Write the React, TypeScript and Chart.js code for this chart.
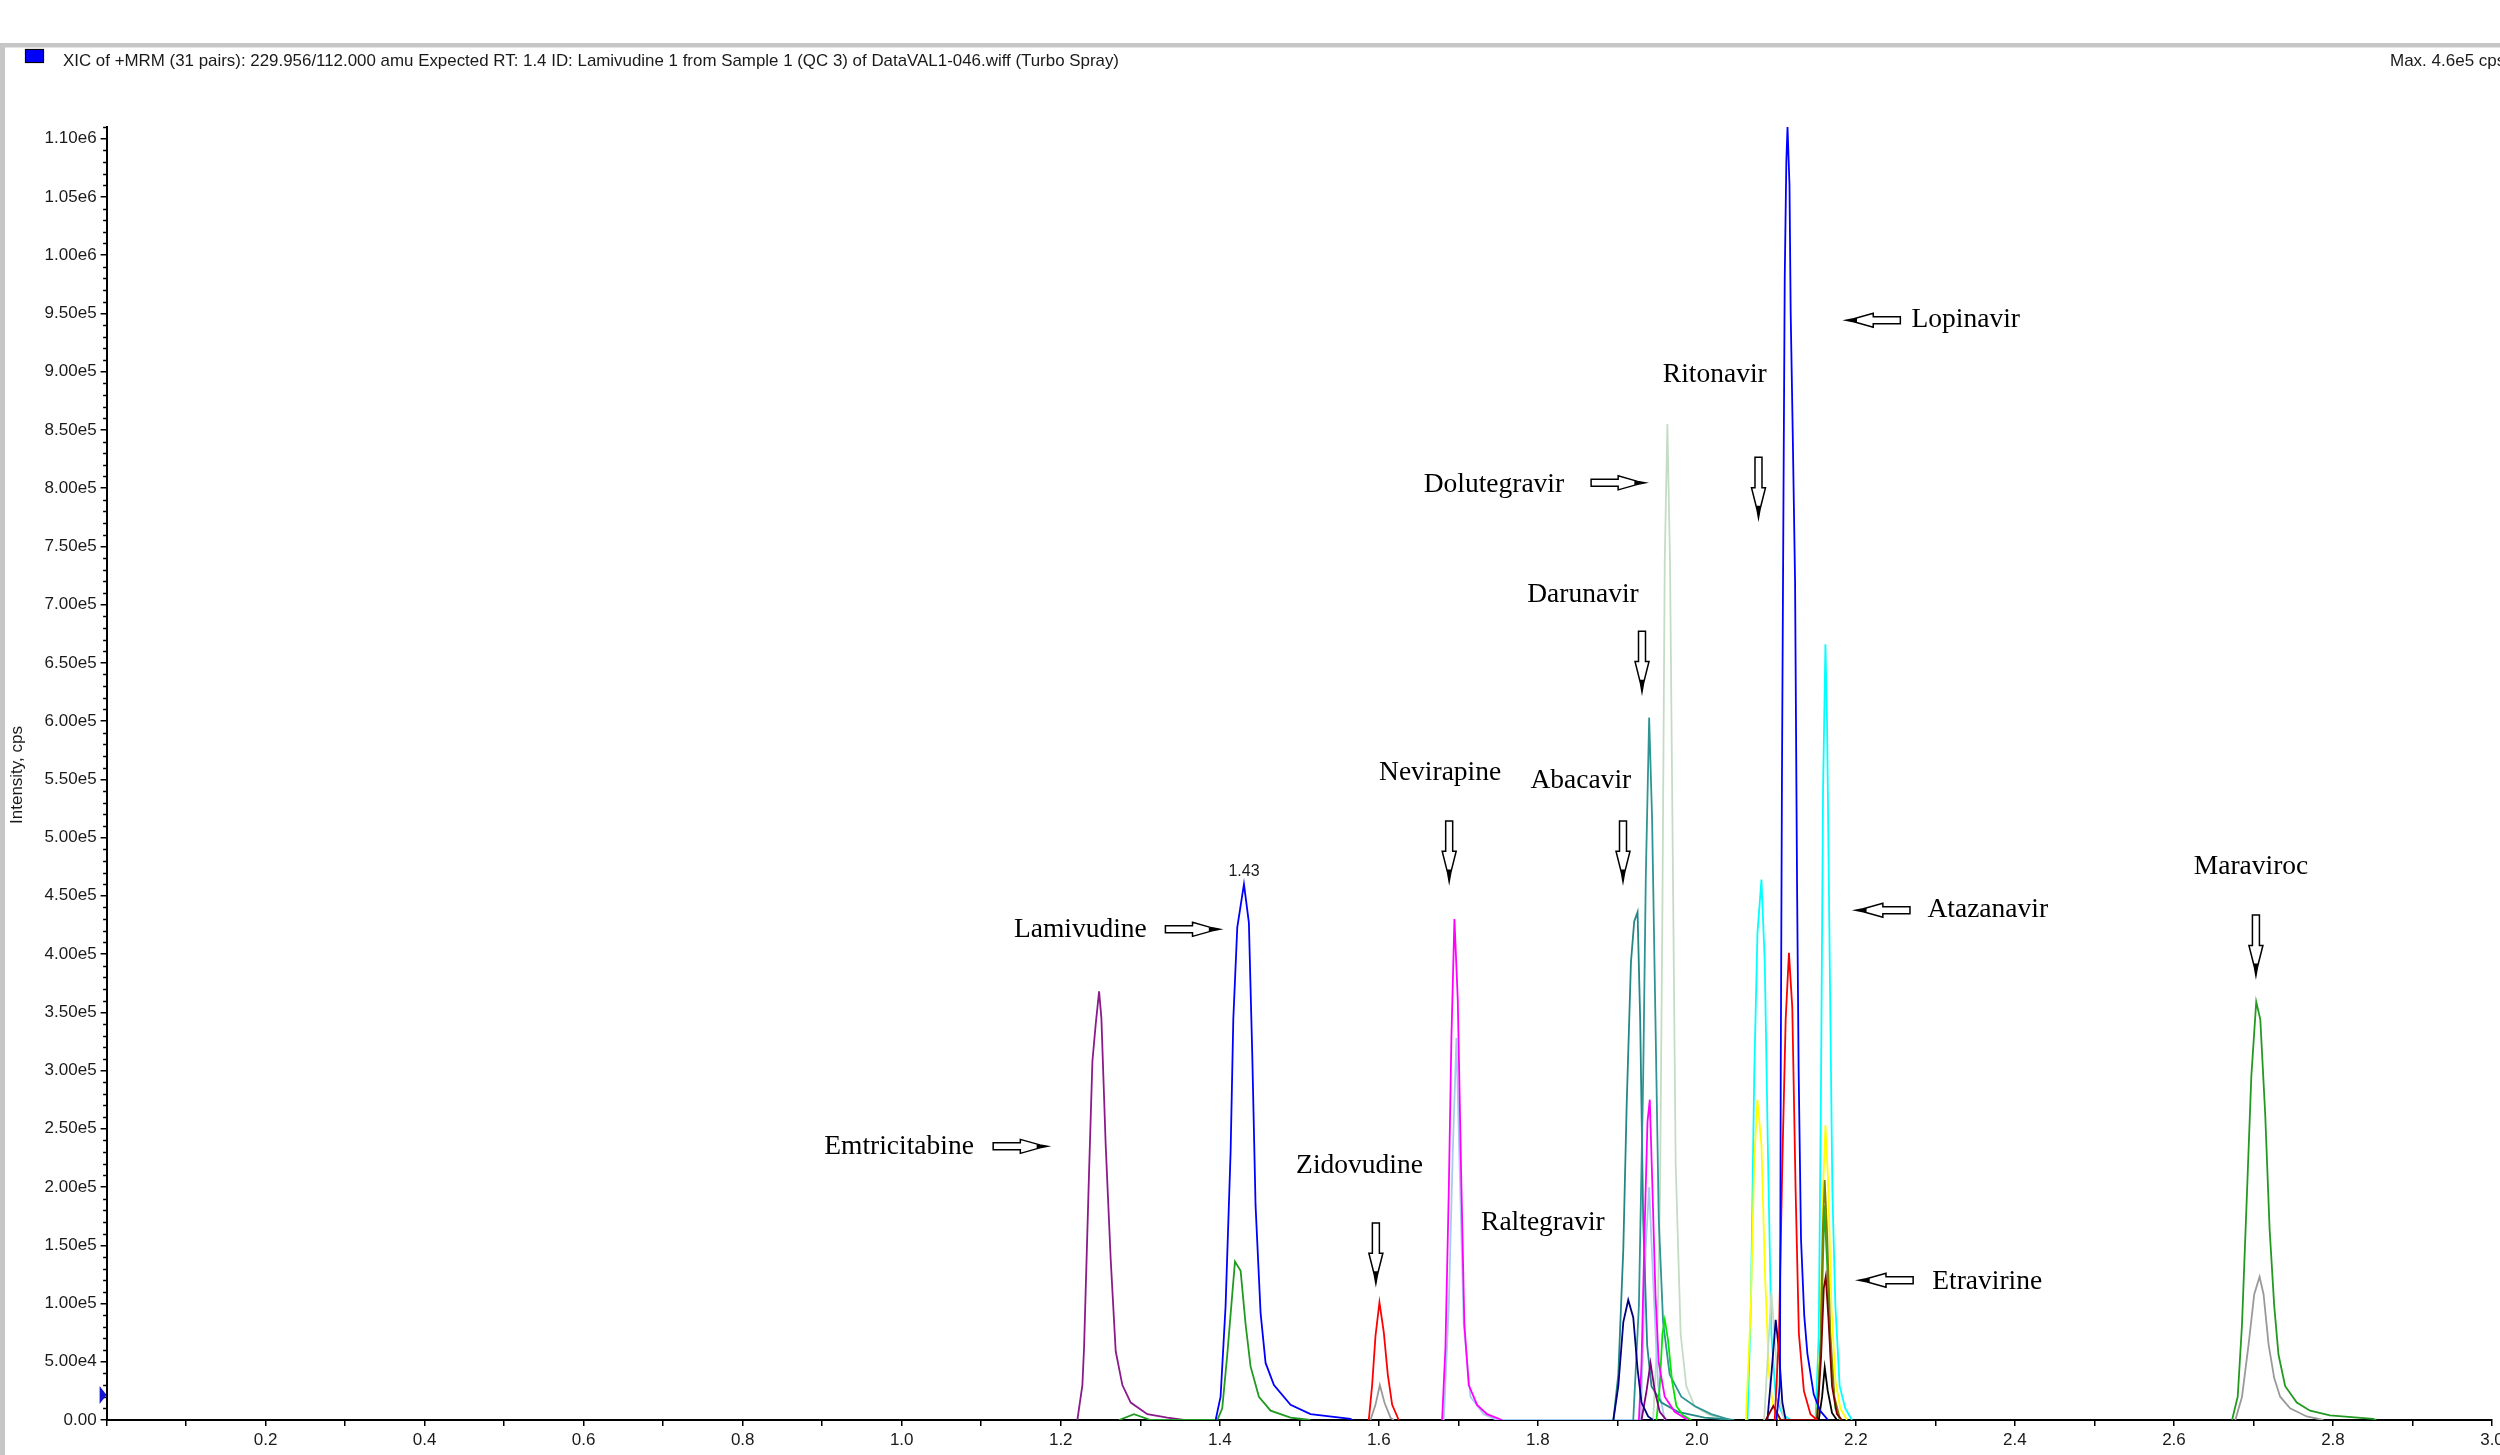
import React, { useEffect, useRef } from 'react';
import { Chart, registerables } from 'chart.js';

Chart.register(...registerables);

type Pt = [number, number];

// ---------- axis settings ----------
const xMin = 0;
const xMax = 3.0;
const xStep = 0.1;
const yMin = 0;
const yMax = 1110000;
const yStep = 50000;
const yMinorStep = 10000;
const yTickValues: number[] = [
  0, 50000, 100000, 150000, 200000, 250000, 300000, 350000, 400000, 450000, 500000, 550000,
  600000, 650000, 700000, 750000, 800000, 850000, 900000, 950000, 1000000, 1050000, 1100000,
];

// ---------- header texts ----------
const headerText =
  'XIC of +MRM (31 pairs): 229.956/112.000 amu Expected RT: 1.4 ID: Lamivudine 1 from Sample 1 (QC 3) of DataVAL1-046.wiff (Turbo Spray)';
const maxText = 'Max. 4.6e5 cps';
const yTitle = 'Intensity, cps';

// ---------- traces: [retention time (min), intensity (cps)] ----------
const emtricitabine: Pt[] = [
  [1.2209, 0], [1.2272, 30000], [1.2293, 62000], [1.2356, 213000], [1.2398, 308000],
  [1.244, 340000], [1.2482, 368000], [1.2511, 345000], [1.2565, 236000], [1.2628, 138000],
  [1.2691, 59000], [1.2775, 30000], [1.288, 15000], [1.3089, 5000], [1.334, 2000], [1.355, 0],
];
const lamivudine: Pt[] = [
  [1.3948, 0], [1.401, 20000], [1.4073, 98000], [1.4136, 230000], [1.417, 344000],
  [1.422, 423000], [1.4304, 460000], [1.4366, 427000], [1.4408, 315000], [1.445, 184000],
  [1.4513, 92000], [1.4576, 49000], [1.4681, 30000], [1.489, 13000], [1.5141, 5000],
  [1.5644, 1000], [1.5665, 0],
];
const lamivudineGreen: Pt[] = [
  [1.2733, 0], [1.2921, 5000], [1.3131, 0], [1.3969, 0], [1.4031, 10000], [1.4094, 56000],
  [1.4157, 108000], [1.4191, 136000], [1.4262, 128000], [1.4325, 82000], [1.4387, 46000],
  [1.4492, 20000], [1.4639, 8000], [1.489, 2000], [1.5141, 0],
];
const zidovudine: Pt[] = [
  [1.5874, 0], [1.5916, 30000], [1.5958, 72000], [1.6008, 101000], [1.6063, 75000],
  [1.6113, 39000], [1.6168, 13000], [1.6251, 0],
];
const zidovudineGray: Pt[] = [
  [1.5895, 0], [1.5958, 13000], [1.6013, 30000], [1.6071, 15000], [1.6147, 2000], [1.6188, 0],
];
const nevirapine: Pt[] = [
  [1.6796, 0], [1.6838, 62000], [1.688, 197000], [1.6913, 328000], [1.6951, 430000],
  [1.6993, 361000], [1.7035, 213000], [1.7076, 82000], [1.7131, 30000], [1.7236, 13000],
  [1.7361, 5000], [1.755, 0],
];
const lightBlueTrace: Pt[] = [
  [1.6817, 0], [1.688, 98000], [1.693, 230000], [1.6976, 328000], [1.7018, 213000],
  [1.7068, 82000], [1.7152, 20000], [1.7319, 5000], [1.7487, 0], [1.9296, 0],
  [1.9358, 150000], [1.94, 200000], [1.945, 120000], [1.9512, 30000], [1.9596, 0],
];
const raltegravir: Pt[] = [
  [1.895, 0], [1.9012, 29000], [1.9075, 84000], [1.9137, 103000], [1.92, 88000],
  [1.9254, 44000], [1.9304, 15000], [1.9387, 3000], [1.945, 0],
];
const abacavir: Pt[] = [
  [1.895, 0], [1.9012, 39000], [1.9075, 147000], [1.9117, 270000], [1.9171, 393000],
  [1.9212, 428000], [1.9254, 436000], [1.9287, 344000], [1.9325, 172000], [1.9375, 64000],
  [1.9429, 29000], [1.9554, 15000], [1.9762, 7000], [2.0096, 2000], [2.047, 0],
];
const darunavir: Pt[] = [
  [1.92, 0], [1.9271, 98000], [1.9325, 295000], [1.9358, 467000], [1.94, 603000],
  [1.9437, 516000], [1.9479, 344000], [1.9521, 172000], [1.9575, 84000], [1.9658, 39000],
  [1.9804, 20000], [1.9971, 12000], [2.0179, 5000], [2.0429, 0],
];
const dolutegravir: Pt[] = [
  [1.945, 0], [1.9504, 74000], [1.9537, 197000], [1.9567, 442000], [1.9596, 737000],
  [1.9629, 855000], [1.9662, 737000], [1.9696, 492000], [1.9733, 221000], [1.9796, 74000],
  [1.9867, 29000], [1.9971, 12000], [2.0138, 5000], [2.0346, 0],
];
const magentaTrace: Pt[] = [
  [1.9271, 0], [1.9304, 49000], [1.9346, 172000], [1.9379, 256000], [1.9408, 275000],
  [1.9442, 197000], [1.9479, 108000], [1.9521, 49000], [1.9596, 20000], [1.9721, 7000],
  [1.9888, 0],
];
const purpleTrace: Pt[] = [
  [1.9304, 0], [1.9367, 25000], [1.9417, 49000], [1.9471, 25000], [1.9533, 7000], [1.9617, 0],
];
const brightGreenTrace: Pt[] = [
  [1.9492, 0], [1.9533, 29000], [1.9567, 74000], [1.9596, 86000], [1.9637, 69000],
  [1.9687, 34000], [1.9742, 12000], [1.9825, 4000], [1.9929, 0],
];
const cyanEarly: Pt[] = [
  [2.0637, 0], [2.0679, 98000], [2.0721, 295000], [2.0762, 418000], [2.0812, 464000],
  [2.0854, 393000], [2.0896, 221000], [2.0937, 74000], [2.0992, 20000], [2.1075, 5000],
  [2.1179, 0],
];
const yellowEarly: Pt[] = [
  [2.0617, 0], [2.0679, 98000], [2.0721, 221000], [2.0762, 275000], [2.0812, 236000],
  [2.0858, 123000], [2.0908, 39000], [2.0962, 10000], [2.1033, 0],
];
const paleGreenEarly: Pt[] = [
  [2.0846, 0], [2.0896, 60000], [2.0937, 110000], [2.0979, 70000], [2.1033, 20000], [2.1096, 0],
];
const navyEarly: Pt[] = [
  [2.0887, 0], [2.0937, 39000], [2.0992, 86000], [2.1033, 59000], [2.1075, 15000], [2.1117, 0],
];
const ritonavir: Pt[] = [
  [2.0979, 0], [2.1033, 74000], [2.1075, 221000], [2.1117, 344000], [2.1158, 401000],
  [2.12, 354000], [2.1242, 197000], [2.1283, 74000], [2.1346, 25000], [2.1429, 5000],
  [2.1512, 0],
];
const lopinavir: Pt[] = [
  [2.1, 0], [2.1045, 30000], [2.1055, 300000], [2.107, 550000], [2.109, 800000],
  [2.1105, 980000], [2.1125, 1080000], [2.114, 1110000], [2.1165, 1060000], [2.118, 950000],
  [2.1205, 850000], [2.1235, 720000], [2.126, 460000], [2.128, 300000], [2.131, 155000],
  [2.135, 90000], [2.139, 57000], [2.147, 22000], [2.155, 8000], [2.165, 0],
];
const atazanavir: Pt[] = [
  [2.1492, 0], [2.1533, 74000], [2.1562, 295000], [2.1587, 541000], [2.1617, 666000],
  [2.1637, 600000], [2.1671, 393000], [2.1704, 197000], [2.1742, 98000], [2.1796, 29000],
  [2.1867, 10000], [2.195, 0],
];
const yellowLate: Pt[] = [
  [2.1512, 0], [2.1554, 74000], [2.1587, 197000], [2.1617, 253000], [2.165, 206000],
  [2.1692, 98000], [2.1742, 34000], [2.1804, 10000], [2.1887, 0],
];
const oliveLate: Pt[] = [
  [2.1512, 0], [2.1554, 59000], [2.1583, 162000], [2.1608, 206000], [2.1637, 162000],
  [2.1679, 74000], [2.1729, 20000], [2.1804, 0],
];
const greenLate: Pt[] = [
  [2.1512, 0], [2.1562, 74000], [2.1604, 184000], [2.1646, 123000], [2.1687, 49000],
  [2.1742, 10000], [2.1804, 0],
];
const etravirine: Pt[] = [
  [2.0867, 0], [2.0962, 12000], [2.1054, 0], [2.1512, 0], [2.1562, 54000], [2.1596, 113000],
  [2.1621, 123000], [2.1654, 88000], [2.17, 29000], [2.1762, 5000], [2.1825, 0],
];
const blackLate: Pt[] = [
  [2.1533, 0], [2.1575, 20000], [2.1608, 45000], [2.1646, 25000], [2.17, 6000], [2.1762, 0],
];
const maraviroc: Pt[] = [
  [2.6731, 0], [2.6802, 20000], [2.6856, 82000], [2.6919, 196000], [2.6973, 295000],
  [2.7035, 359000], [2.7086, 344000], [2.7148, 262000], [2.7203, 164000], [2.7261, 98000],
  [2.7315, 56000], [2.7399, 29000], [2.7545, 15000], [2.7712, 8000], [2.7962, 4000],
  [2.8505, 1000], [2.8547, 0],
];
const maravirocGray: Pt[] = [
  [2.6772, 0], [2.6856, 20000], [2.6939, 65000], [2.701, 108000], [2.7077, 123000],
  [2.7127, 108000], [2.719, 65000], [2.7261, 36000], [2.7336, 20000], [2.7461, 10000],
  [2.767, 3000], [2.7879, 0],
];

// dataset order: first = drawn on top
const traceList: { name: string; data: Pt[]; color: string }[] = [
  { name: 'Lopinavir', data: lopinavir, color: '#0000ff' },
  { name: 'Lamivudine', data: lamivudine, color: '#0000ff' },
  { name: 'Ritonavir', data: ritonavir, color: '#ff0000' },
  { name: 'Zidovudine', data: zidovudine, color: '#ff0000' },
  { name: 'Etravirine', data: etravirine, color: '#800000' },
  { name: 'Black', data: blackLate, color: '#000000' },
  { name: 'Olive', data: oliveLate, color: '#808000' },
  { name: 'GreenLate', data: greenLate, color: '#1fb01f' },
  { name: 'YellowLate', data: yellowLate, color: '#ffff00' },
  { name: 'Atazanavir', data: atazanavir, color: '#00ffff' },
  { name: 'NavyEarly', data: navyEarly, color: '#000080' },
  { name: 'PaleGreenEarly', data: paleGreenEarly, color: '#c4dcc4' },
  { name: 'YellowEarly', data: yellowEarly, color: '#ffff00' },
  { name: 'CyanEarly', data: cyanEarly, color: '#00ffff' },
  { name: 'Raltegravir', data: raltegravir, color: '#000080' },
  { name: 'Purple', data: purpleTrace, color: '#800080' },
  { name: 'Magenta', data: magentaTrace, color: '#ff00ff' },
  { name: 'BrightGreen', data: brightGreenTrace, color: '#00e600' },
  { name: 'Darunavir', data: darunavir, color: '#2f9494' },
  { name: 'Abacavir', data: abacavir, color: '#238787' },
  { name: 'Nevirapine', data: nevirapine, color: '#ff00ff' },
  { name: 'LightBlue', data: lightBlueTrace, color: '#a9caf0' },
  { name: 'Dolutegravir', data: dolutegravir, color: '#c4dcc4' },
  { name: 'ZidovudineGray', data: zidovudineGray, color: '#9a9a9a' },
  { name: 'LamivudineGreen', data: lamivudineGreen, color: '#229a22' },
  { name: 'Emtricitabine', data: emtricitabine, color: '#8b1a8b' },
  { name: 'Maraviroc', data: maraviroc, color: '#229a22' },
  { name: 'MaravirocGray', data: maravirocGray, color: '#9a9a9a' },
];

// ---------- annotations (data coordinates) ----------
const annotationTexts = [
  'Emtricitabine', 'Lamivudine', 'Zidovudine', 'Nevirapine', 'Raltegravir', 'Abacavir',
  'Darunavir', 'Dolutegravir', 'Ritonavir', 'Lopinavir', 'Atazanavir', 'Etravirine', 'Maraviroc',
];
const annotationX = [0.9025, 1.1411, 1.496, 1.6003, 1.7286, 1.7907, 1.7867, 1.6564, 1.9572, 2.27, 2.29, 2.296, 2.6249];
const annotationY = [234900, 421200, 218500, 555300, 169200, 548500, 708700, 803200, 897600, 944100, 437600, 118600, 474500];

// arrows: [x tail, y tail, x tip, y tip]
const arrows: [number, number, number, number][] = [
  [1.115, 234900, 1.1833, 234900],
  [1.3316, 421200, 1.3998, 421200],
  [1.5963, 169200, 1.5963, 117200],
  [1.6885, 514300, 1.6885, 462200],
  [1.9071, 514300, 1.9071, 462200],
  [1.931, 677200, 1.931, 625100],
  [1.867, 804500, 1.935, 804500],
  [2.0775, 826400, 2.0775, 774400],
  [2.2559, 944100, 2.1878, 944100],
  [2.268, 437600, 2.1998, 437600],
  [2.272, 120000, 2.2037, 120000],
  [2.7031, 433500, 2.7031, 381400],
];

const apexLabelText = '1.43';
const apexLabelX = 1.4304;
const apexLabelY = 460000;
const markerLevel = 21500;

const SANS = '"Liberation Sans", Arial, sans-serif';
const SERIF = '"Liberation Serif", "Times New Roman", serif';

function drawArrow(ctx: CanvasRenderingContext2D, x1: number, y1: number, x2: number, y2: number) {
  const dx = x2 - x1;
  const dy = y2 - y1;
  const L = Math.sqrt(dx * dx + dy * dy);
  ctx.save();
  ctx.translate(x1, y1);
  ctx.rotate(Math.atan2(dy, dx));
  ctx.beginPath();
  ctx.moveTo(0, -3.5);
  ctx.lineTo(0.5 * L, -3.5);
  ctx.lineTo(0.5 * L, -7);
  ctx.lineTo(0.86 * L, -1.5);
  ctx.lineTo(L, 0);
  ctx.lineTo(0.86 * L, 1.5);
  ctx.lineTo(0.5 * L, 7);
  ctx.lineTo(0.5 * L, 3.5);
  ctx.lineTo(0, 3.5);
  ctx.closePath();
  ctx.fillStyle = '#ffffff';
  ctx.fill();
  ctx.lineWidth = 1.5;
  ctx.strokeStyle = '#000000';
  ctx.lineJoin = 'miter';
  ctx.stroke();
  ctx.beginPath();
  ctx.moveTo(0.8 * L, -2.2);
  ctx.lineTo(L, 0);
  ctx.lineTo(0.8 * L, 2.2);
  ctx.closePath();
  ctx.fillStyle = '#000000';
  ctx.fill();
  ctx.restore();
}

const decorPlugin = {
  id: 'decor',
  beforeDraw(chart: any) {
    const ctx: CanvasRenderingContext2D = chart.ctx;
    const W = chart.width;
    const H = chart.height;
    ctx.save();
    ctx.fillStyle = '#ffffff';
    ctx.fillRect(0, 0, W, H);
    // window frame
    ctx.fillStyle = '#c6c6c6';
    ctx.fillRect(0, 43, W, 4);
    ctx.fillStyle = '#e4e4e4';
    ctx.fillRect(0, 47, W, 1);
    ctx.fillStyle = '#c6c6c6';
    ctx.fillRect(0, 43, 5, H - 43);
    // header
    ctx.fillStyle = '#0000ff';
    ctx.fillRect(25, 49, 19, 14);
    ctx.strokeStyle = '#000000';
    ctx.lineWidth = 1.2;
    ctx.strokeRect(25.5, 49.5, 18, 13);
    ctx.fillStyle = '#1a1a1a';
    ctx.font = '17px ' + SANS;
    ctx.textBaseline = 'middle';
    ctx.textAlign = 'left';
    const w = ctx.measureText(headerText).width;
    ctx.save();
    ctx.translate(63, 61);
    ctx.scale(1056 / w, 1);
    ctx.fillText(headerText, 0, 0);
    ctx.restore();
    ctx.fillText(maxText, 2390, 61);
    // y title
    ctx.save();
    ctx.translate(17, 775);
    ctx.rotate(-Math.PI / 2);
    ctx.textAlign = 'center';
    ctx.fillText(yTitle, 0, 0);
    ctx.restore();
    ctx.restore();
  },
  afterDraw(chart: any) {
    const ctx: CanvasRenderingContext2D = chart.ctx;
    const xs = chart.scales.x;
    const ys = chart.scales.y;
    const left = chart.chartArea.left;
    ctx.save();
    // minor y ticks
    ctx.strokeStyle = '#000000';
    ctx.lineWidth = 1.5;
    const nMinor = Math.floor((yMax - yMin) / yMinorStep);
    for (let i = 1; i <= nMinor; i++) {
      const v = yMin + i * yMinorStep;
      if (Math.round(v) % yStep === 0) continue;
      const py = Math.round(ys.getPixelForValue(v)) + 0.5;
      ctx.beginPath();
      ctx.moveTo(left - 3.5, py);
      ctx.lineTo(left, py);
      ctx.stroke();
    }
    // blue marker on y axis
    const my = ys.getPixelForValue(markerLevel);
    ctx.fillStyle = '#1414d2';
    ctx.beginPath();
    ctx.moveTo(left - 7, my - 9);
    ctx.lineTo(left, my);
    ctx.lineTo(left - 7, my + 9);
    ctx.closePath();
    ctx.fill();
    // apex label
    ctx.fillStyle = '#1a1a1a';
    ctx.font = '16px ' + SANS;
    ctx.textAlign = 'center';
    ctx.textBaseline = 'middle';
    ctx.fillText(apexLabelText, xs.getPixelForValue(apexLabelX), ys.getPixelForValue(apexLabelY) - 13);
    // annotations
    ctx.fillStyle = '#000000';
    ctx.font = '27.5px ' + SERIF;
    ctx.textAlign = 'left';
    ctx.textBaseline = 'middle';
    annotationTexts.forEach((t, i) => {
      ctx.fillText(t, xs.getPixelForValue(annotationX[i]), ys.getPixelForValue(annotationY[i]));
    });
    arrows.forEach((a) => {
      drawArrow(
        ctx,
        xs.getPixelForValue(a[0]),
        ys.getPixelForValue(a[1]),
        xs.getPixelForValue(a[2]),
        ys.getPixelForValue(a[3])
      );
    });
    ctx.restore();
  },
};

export default function App() {
  const canvasRef = useRef<HTMLCanvasElement | null>(null);

  useEffect(() => {
    document.body.style.margin = '0';
    document.body.style.overflow = 'hidden';
    const canvas = canvasRef.current;
    if (!canvas) return;
    const chart = new Chart(canvas, {
      type: 'line',
      data: {
        datasets: traceList.map((t) => ({
          label: t.name,
          data: t.data.map((p) => ({ x: p[0], y: p[1] })),
          borderColor: t.color,
          backgroundColor: t.color,
          borderWidth: 1.8,
          pointRadius: 0,
          tension: 0,
          fill: false,
        })),
      },
      options: {
        animation: false,
        responsive: false,
        maintainAspectRatio: false,
        devicePixelRatio: 1,
        events: [],
        layout: { padding: { left: 0, right: 8, top: 127, bottom: 0 } },
        plugins: {
          legend: { display: false },
          tooltip: { enabled: false },
          title: { display: false },
        },
        scales: {
          x: {
            type: 'linear',
            min: xMin,
            max: xMax,
            ticks: {
              stepSize: xStep,
              autoSkip: false,
              maxRotation: 0,
              minRotation: 0,
              padding: 4,
              color: '#1a1a1a',
              font: { family: SANS, size: 17 },
              callback: (value: any) => {
                const k = Math.round(Number(value) * 10);
                if (k === 0 || k % 2 !== 0) return '';
                return (k / 10).toFixed(1);
              },
            },
            grid: {
              display: true,
              drawOnChartArea: false,
              drawTicks: true,
              tickLength: 6,
              color: '#000000',
              lineWidth: 1.5,
            },
            border: { display: true, color: '#000000', width: 2 },
            afterFit: (scale: any) => {
              scale.height = 35;
              scale.paddingLeft = 0;
              scale.paddingRight = 0;
            },
          },
          y: {
            type: 'linear',
            min: yMin,
            max: yMax,
            afterBuildTicks: (scale: any) => {
              scale.ticks = yTickValues.map((v) => ({ value: v }));
            },
            ticks: {
              autoSkip: false,
              padding: 4,
              color: '#1a1a1a',
              font: { family: SANS, size: 17 },
              callback: (value: any) => {
                const v = Number(value);
                if (v === 0) return '0.00';
                return v.toExponential(2).replace('e+', 'e');
              },
            },
            grid: {
              display: true,
              drawOnChartArea: false,
              drawTicks: true,
              tickLength: 6,
              color: '#000000',
              lineWidth: 1.5,
            },
            border: { display: true, color: '#000000', width: 2 },
            afterFit: (scale: any) => {
              scale.width = 106.6;
              scale.paddingTop = 0;
              scale.paddingBottom = 0;
            },
          },
        },
      },
      plugins: [decorPlugin],
    } as any);
    return () => {
      chart.destroy();
    };
  }, []);

  return (
    <div style={{ position: 'fixed', left: 0, top: 0, width: 2500, height: 1455, overflow: 'hidden', background: '#fff' }}>
      <canvas ref={canvasRef} width={2500} height={1455} style={{ display: 'block', width: 2500, height: 1455 }} />
    </div>
  );
}
